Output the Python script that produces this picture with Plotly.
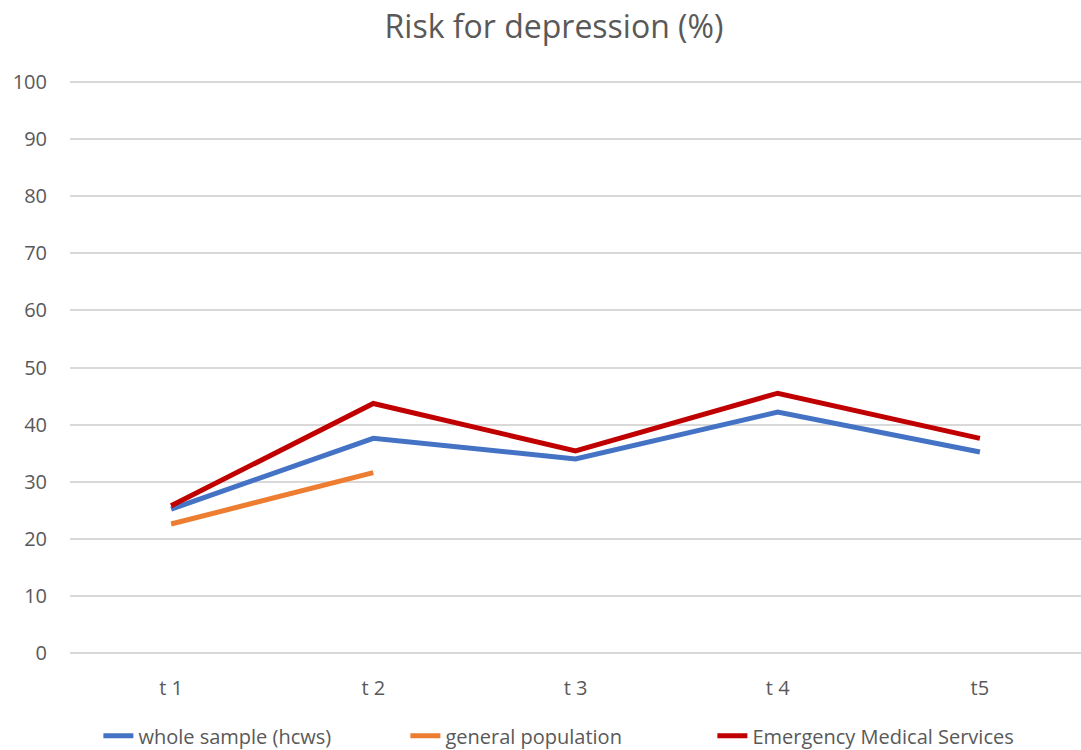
import plotly.graph_objects as go

categories = ["t 1", "t 2", "t 3", "t 4", "t5"]
whole_sample = [25.2, 37.6, 34.0, 42.2, 35.2]
general_population = [22.6, 31.6, None, None, None]
ems = [25.8, 43.7, 35.4, 45.5, 37.6]
y_ticks = list(range(0, 101, 10))

FONT = "Open Sans, Liberation Sans, sans-serif"
GREY = "#595959"

fig = go.Figure()
fig.add_trace(go.Scatter(x=categories, y=whole_sample, mode="lines",
                         name="whole sample (hcws)",
                         line=dict(color="#4472C4", width=5)))
fig.add_trace(go.Scatter(x=categories, y=general_population, mode="lines",
                         name="general population",
                         line=dict(color="#ED7D31", width=5)))
fig.add_trace(go.Scatter(x=categories, y=ems, mode="lines",
                         name="Emergency Medical Services",
                         line=dict(color="#C00000", width=5)))

fig.update_layout(
    width=1081, height=750,
    margin=dict(l=70, r=0, t=79, b=94),
    paper_bgcolor="white", plot_bgcolor="white",
    title=dict(text="Risk for depression (%)", x=0.5125, xref="container",
               xanchor="center", y=0.964, yref="container", yanchor="middle",
               font=dict(family=FONT, size=32, color=GREY)),
    font=dict(family=FONT, size=19, color=GREY),
    showlegend=True,
    legend=dict(orientation="h", x=0.517, xref="container", xanchor="center",
                y=0.019, yref="container", yanchor="middle",
                font=dict(family=FONT, size=20, color=GREY),
                entrywidth=262, entrywidthmode="pixels",
                tracegroupgap=0, traceorder="normal"),
    xaxis=dict(type="category", categoryorder="array", categoryarray=categories,
               showgrid=False, zeroline=False, showline=False,
               ticks="", ticklabelstandoff=18,
               tickfont=dict(family=FONT, size=20, color=GREY),
               range=[-0.5, 4.5]),
    yaxis=dict(range=[-0.5, 100.5], tickvals=y_ticks, showgrid=True,
               gridcolor="#D9D9D9", gridwidth=1.5, zeroline=False,
               showline=False, ticks="", ticklabelstandoff=22,
               tickfont=dict(family=FONT, size=20, color=GREY)),
)

fig.write_html("out.html", config={"displayModeBar": False},
               post_script="document.body.style.margin='0';document.body.style.padding='0';")
